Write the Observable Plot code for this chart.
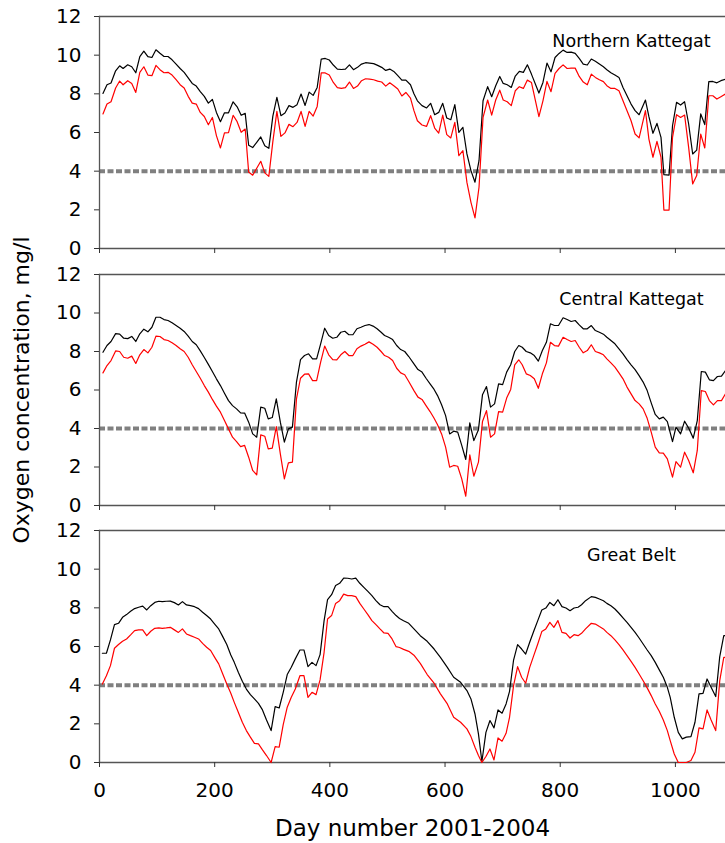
<!DOCTYPE html>
<html><head><meta charset="utf-8">
<script src="https://cdn.jsdelivr.net/npm/d3@7"></script>
<script src="https://cdn.jsdelivr.net/npm/@observablehq/plot@0.6"></script>
<style>
html,body{margin:0;padding:0;background:#fff;}
#chart{width:725px;height:843px;position:relative;overflow:hidden;background:#fff;}
#chart svg{display:block;}
</style></head><body><div id="chart"></div>
<script>
// ---------- data ----------
const panelTitles = ["Northern Kattegat", "Central Kattegat", "Great Belt"];
const yLabel = "Oxygen concentration, mg/l";
const xLabel = "Day number 2001-2004";
const yTicks = [0, 2, 4, 6, 8, 10, 12];
const xTicks = [0, 200, 400, 600, 800, 1000];
const xDomain = [0, 1087];
const yDomain = [0, 12];
const threshold = [4];

const daysN = [6,13,20,28,35,41,49,56,63,70,77,84,91,98,105,112,119,126,133,140,147,154,161,168,175,182,189,196,203,210,217,224,232,239,246,253,259,266,273,280,287,294,301,308,315,322,329,336,343,350,357,364,371,378,385,392,399,406,413,420,427,434,441,448,455,462,469,476,483,490,497,504,511,518,525,532,540,546,552,560,568,575,582,589,596,603,610,617,624,631,638,645,652,659,666,674,681,688,695,701,708,715,722,729,736,743,750,763,770,777,784,791,798,805,812,819,826,833,840,847,854,861,868,875,881,888,895,902,909,916,923,930,937,948,954,961,968,975,980,989,995,1002,1009,1016,1023,1030,1037,1044,1051,1058,1065,1072,1079,1087];
const blackN = [8.02,8.47,8.56,9.19,9.45,9.31,9.50,9.40,9.09,9.93,
10.21,9.92,9.88,10.28,10.10,9.93,9.93,9.76,9.54,9.31,
9.11,8.83,8.54,8.40,8.11,7.87,7.52,7.71,7.04,6.56,
7.02,7.02,7.59,7.33,6.89,6.99,5.34,5.22,5.49,5.77,
5.32,5.18,6.85,7.82,6.87,7.01,7.39,7.30,7.44,7.99,
7.40,8.09,7.92,8.33,9.80,9.83,9.75,9.49,9.28,9.26,
9.28,9.50,9.25,9.37,9.54,9.61,9.59,9.56,9.47,9.37,
9.21,9.28,9.16,8.94,8.71,8.71,8.47,8.00,7.64,7.39,
7.27,7.51,6.92,7.04,7.51,6.75,6.66,7.44,6.01,6.27,
4.89,4.03,3.43,4.54,7.64,8.37,7.85,8.42,8.90,8.54,
8.47,8.33,8.92,9.16,9.11,9.50,9.02,8.04,8.59,9.59,
9.14,9.88,10.09,10.26,10.14,10.16,10.09,9.83,9.54,9.49,
9.80,9.68,9.54,9.40,9.25,9.09,8.97,8.85,8.33,7.90,
7.47,7.13,6.92,7.68,6.82,5.96,6.47,5.75,3.82,3.80,
6.35,7.56,7.42,7.59,6.44,4.89,5.09,6.96,6.41,8.63,
8.64,8.57,8.68,8.76];
const redN = [6.96,7.47,7.59,8.30,8.66,8.47,8.68,8.54,8.07,9.11,
9.40,8.97,8.94,9.47,9.25,9.09,9.11,8.97,8.73,8.47,
8.30,7.87,7.52,7.47,7.04,6.83,6.40,6.78,5.84,5.20,
5.98,5.99,6.89,6.56,6.01,6.18,3.96,3.79,4.15,4.51,
3.91,3.73,5.53,7.09,5.80,5.98,6.42,6.30,6.52,7.09,
6.32,7.09,6.85,7.35,9.08,9.08,8.97,8.59,8.32,8.28,
8.32,8.61,8.28,8.40,8.68,8.78,8.76,8.73,8.66,8.61,
8.40,8.57,8.42,8.25,7.89,8.07,7.78,7.13,6.61,6.39,
6.32,6.87,6.23,5.97,6.90,5.89,5.72,6.52,4.80,5.06,
3.42,2.39,1.58,3.17,6.78,7.68,6.90,7.68,8.19,7.68,
7.59,7.39,8.16,8.37,8.28,8.71,8.59,6.82,7.64,8.64,
8.11,9.06,9.31,9.50,9.31,9.33,9.33,8.90,8.61,8.47,
9.02,8.85,8.73,8.63,8.42,8.28,8.28,8.16,7.64,7.13,
6.61,5.92,5.72,7.13,5.66,4.72,5.54,4.72,1.99,1.99,
5.75,6.92,6.78,6.90,5.23,3.34,3.77,5.92,5.20,7.90,
7.90,7.73,7.85,7.99];

const daysC = [6,13,20,28,35,42,49,56,63,70,77,84,91,98,105,112,119,126,133,140,147,154,161,168,175,182,189,196,203,210,217,224,231,238,245,252,259,266,273,280,287,293,300,307,314,321,328,335,342,349,356,363,370,377,384,391,398,405,412,419,426,433,440,447,454,461,468,475,482,489,495,502,509,516,523,530,537,546,553,560,567,574,581,587,594,601,608,615,622,629,636,643,650,658,665,672,679,686,693,700,707,714,721,728,734,741,748,755,762,769,776,783,790,797,805,812,819,826,833,840,847,854,861,868,875,881,888,895,902,909,916,923,930,937,944,951,958,965,972,979,986,995,1001,1009,1016,1023,1031,1038,1045,1052,1059,1066,1073,1080,1087];
const blackC = [7.96,8.31,8.52,8.93,8.90,8.69,8.67,8.78,8.52,8.92,
9.16,9.02,9.26,9.78,9.78,9.66,9.61,9.49,9.35,9.21,
9.04,8.80,8.52,8.35,8.03,7.69,7.33,6.96,6.58,6.23,
5.83,5.45,5.19,5.02,4.81,4.80,4.33,3.72,3.55,5.11,
5.05,4.50,4.57,5.54,4.33,3.29,3.98,4.07,6.41,7.58,
7.79,7.88,7.62,7.62,8.40,9.21,8.83,8.69,8.74,9.00,
9.05,8.87,8.87,9.18,9.26,9.35,9.40,9.32,9.18,9.00,
8.83,8.74,8.62,8.31,8.10,8.00,7.74,7.36,7.06,6.93,
6.61,6.32,6.03,5.71,5.23,4.67,3.72,3.86,3.81,3.12,
2.39,4.29,3.37,3.94,5.75,6.18,5.11,5.28,6.32,6.28,
6.93,7.31,8.00,8.31,8.22,8.00,7.93,7.79,7.50,8.05,
8.48,9.44,9.35,9.35,9.75,9.66,9.56,9.61,9.38,9.18,
9.18,9.35,9.09,9.00,8.90,8.74,8.57,8.40,8.14,7.88,
7.58,7.31,7.06,6.75,6.41,5.97,5.33,4.73,4.50,4.59,
4.36,3.32,4.07,3.72,4.38,4.02,3.50,4.41,6.96,6.93,
6.53,6.49,6.70,6.72,7.01];
const redC = [6.89,7.27,7.53,8.03,8.00,7.70,7.65,7.76,7.38,7.83,
8.10,7.93,8.22,8.80,8.78,8.62,8.57,8.45,8.31,8.14,
8.00,7.70,7.31,6.96,6.61,6.23,5.89,5.51,5.16,4.85,
4.41,3.98,3.55,3.32,3.06,3.12,2.51,1.82,1.59,3.67,
3.60,2.94,2.98,4.10,2.68,1.38,2.21,2.25,5.54,6.61,
6.82,6.84,6.49,6.49,7.45,8.28,7.83,7.58,7.57,7.83,
8.00,7.79,7.79,8.14,8.28,8.38,8.50,8.38,8.22,8.00,
7.79,7.70,7.53,7.13,6.89,6.79,6.44,5.97,5.63,5.51,
5.19,4.88,4.53,4.19,3.72,3.03,1.99,2.08,2.04,1.38,
0.48,2.63,1.52,2.25,4.36,4.93,3.55,3.72,4.88,4.85,
5.58,6.03,7.31,7.57,7.31,6.84,6.75,6.58,6.09,6.84,
7.41,8.48,8.31,8.28,8.74,8.62,8.52,8.57,8.22,7.93,
8.05,8.35,8.00,7.93,7.83,7.62,7.41,7.19,6.89,6.58,
6.15,5.80,5.45,5.28,5.02,4.53,3.81,3.03,2.73,2.72,
2.42,1.47,2.28,1.99,2.77,2.34,1.70,2.86,5.97,5.92,
5.45,5.23,5.45,5.45,5.80];

const daysG = [5,12,19,26,33,40,47,54,61,68,75,82,89,96,103,109,116,123,130,137,144,151,158,165,172,179,186,193,200,207,214,221,228,234,241,248,255,262,269,276,283,290,298,305,312,319,326,333,340,348,355,362,369,376,383,390,396,403,410,417,424,431,438,445,452,459,466,473,480,487,494,501,508,515,521,528,537,546,557,569,581,592,604,615,627,638,645,652,658,664,671,678,685,692,699,706,712,719,726,733,740,747,754,761,768,775,782,789,796,803,810,817,824,831,837,844,854,861,868,875,881,888,895,902,909,916,923,930,937,944,951,958,965,972,979,986,991,998,1005,1012,1019,1027,1034,1041,1048,1055,1062,1070,1077,1084,1087];
const blackG = [5.65,5.65,6.34,7.13,7.20,7.51,7.65,7.82,7.96,8.03,
8.09,7.89,8.11,8.28,8.34,8.32,8.34,8.35,8.27,8.15,
8.32,8.15,8.11,8.06,7.96,7.77,7.60,7.42,7.16,6.91,
6.51,6.10,5.56,5.18,4.67,4.20,3.80,3.51,3.29,3.06,
2.72,2.20,1.65,2.89,2.82,3.63,4.55,4.93,5.36,5.82,
5.82,4.96,5.18,5.01,5.58,7.34,8.42,8.68,9.15,9.27,
9.54,9.53,9.49,9.54,9.27,9.06,8.85,8.63,8.37,8.16,
8.06,8.06,7.82,7.60,7.45,7.33,7.20,6.91,6.56,6.27,
5.87,5.44,4.92,4.41,4.15,3.72,3.29,2.51,1.48,0.05,
1.56,2.17,1.79,2.72,2.55,3.03,3.68,5.30,6.10,5.87,
5.61,6.22,6.79,7.34,7.89,7.99,8.28,8.11,8.42,8.06,
7.99,7.85,7.99,8.03,8.16,8.37,8.58,8.54,8.46,8.37,
8.23,8.11,7.94,7.72,7.48,7.25,6.99,6.73,6.44,6.13,
5.82,5.53,5.18,4.79,4.41,3.89,3.37,2.34,1.56,1.22,
1.31,1.34,2.08,3.55,3.58,4.32,3.89,3.41,5.48,6.56,
6.56];
const redG = [4.06,4.49,5.01,5.91,6.10,6.27,6.39,6.60,6.82,6.86,
6.86,6.56,6.79,6.94,6.96,6.94,6.96,6.99,6.86,6.73,
6.91,6.65,6.56,6.48,6.39,6.16,5.96,5.79,5.44,5.10,
4.58,4.06,3.58,3.11,2.60,2.08,1.65,1.31,0.99,0.96,
0.65,0.36,0.00,0.82,0.79,1.96,2.86,3.37,3.80,4.49,
4.49,3.37,3.63,3.51,4.27,5.70,7.42,7.60,8.23,8.37,
8.71,8.63,8.63,8.58,8.23,7.94,7.65,7.34,7.13,6.91,
6.70,6.68,6.39,5.99,5.95,5.85,5.75,5.55,5.13,4.55,
4.10,3.55,3.03,2.34,2.08,1.74,1.34,0.79,0.36,0.00,
0.31,0.70,0.13,1.27,1.10,1.51,2.34,3.98,4.96,4.41,
4.10,4.92,5.53,6.13,6.77,6.91,7.25,6.99,7.34,6.73,
6.68,6.44,6.61,6.56,6.68,6.91,7.20,7.16,7.03,6.91,
6.73,6.56,6.34,6.10,5.82,5.53,5.23,4.92,4.58,4.23,
3.86,3.46,3.03,2.65,2.20,1.65,1.13,0.44,0.00,0.00,
0.00,0.10,0.53,1.79,1.74,2.72,2.20,1.65,4.23,5.44,
5.44];

// ---------- drawing ----------
const FONT = "DejaVu Sans";
const rows = (days, vals) => days.map((d, i) => ({day: d, value: vals[i]}));

function panel(o) {
  const marks = [
    Plot.ruleY(threshold, {stroke: "#808080", strokeWidth: 4, strokeDasharray: "6,2.5"}),
    Plot.frame({anchor: "top", stroke: "#555", strokeWidth: 1.3}),
    Plot.frame({anchor: "left", stroke: "#555", strokeWidth: 1.3}),
    Plot.frame({anchor: "bottom", stroke: "#555", strokeWidth: 1.3}),
    Plot.line(rows(o.days, o.black), {x: "day", y: "value", stroke: "#000", strokeWidth: 1.2}),
    Plot.line(rows(o.days, o.red), {x: "day", y: "value", stroke: "#ff0000", strokeWidth: 1.2}),
    Plot.axisY(yTicks, {tickSize: 5, tickPadding: 13, fontSize: 20, label: null, stroke: "#333"}),
    Plot.axisX(xTicks, {tickSize: 5, tickPadding: 15, fontSize: 20, label: null, stroke: "#333",
      tickFormat: o.xLabels ? (d => String(d)) : (() => "")}),
    Plot.text([o.title], {frameAnchor: "top-right", dx: -94, dy: 30, lineAnchor: "bottom",
      textAnchor: "middle", fontSize: 17.5, fill: "#000"})
  ];
  if (o.yLabel) marks.push(Plot.axisY([], {label: o.yLabel, labelAnchor: "center", labelArrow: "none",
      labelOffset: 86, fontSize: 22, tickSize: 0}));
  if (o.xLabel) marks.push(Plot.axisX([], {label: o.xLabel, labelAnchor: "center", labelArrow: "none",
      labelOffset: 73, fontSize: 23, tickSize: 0}));
  return Plot.plot({
    width: 725, height: o.height,
    marginLeft: 99, marginRight: 0, marginTop: o.mt, marginBottom: o.mb,
    x: {domain: xDomain},
    y: {domain: yDomain},
    style: {fontFamily: FONT, background: "transparent", overflow: "visible", color: "#000"},
    marks
  });
}

const chart = document.getElementById("chart");
chart.append(panel({title: panelTitles[0], days: daysN, black: blackN, red: redN, height: 256, mt: 16, mb: 8, xLabels: false}));
chart.append(panel({title: panelTitles[1], days: daysC, black: blackC, red: redC, height: 256, mt: 18, mb: 7, xLabels: false, yLabel}));
chart.append(panel({title: panelTitles[2], days: daysG, black: blackG, red: redG, height: 331, mt: 18, mb: 81, xLabels: true, xLabel}));
</script></body></html>
